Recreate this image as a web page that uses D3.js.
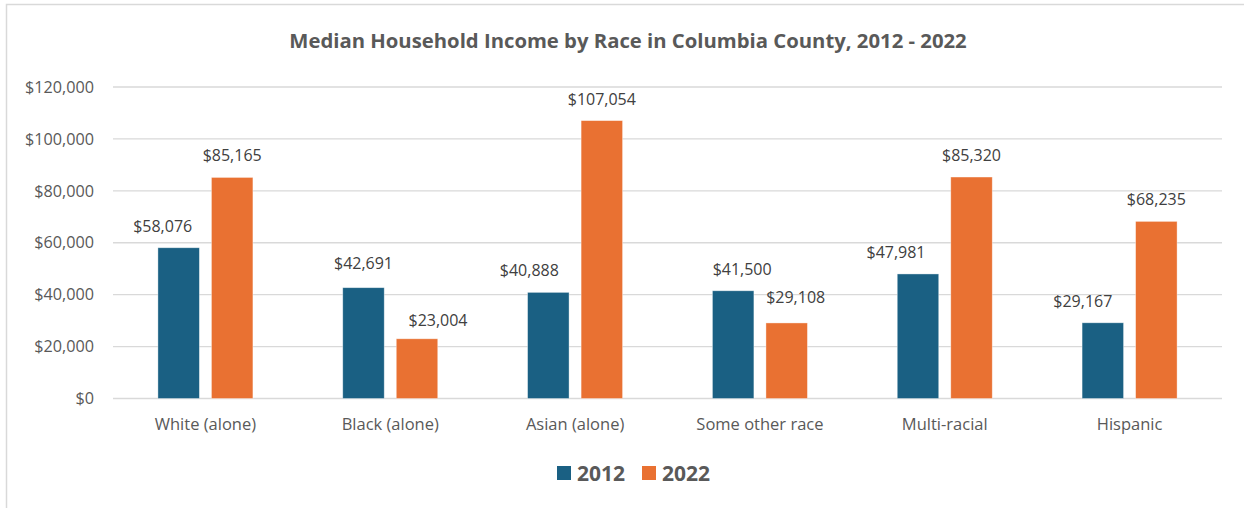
<!DOCTYPE html>
<html>
<head>
<meta charset="utf-8">
<script src="https://cdn.jsdelivr.net/npm/d3@7"></script>
<style>
  html, body { margin: 0; padding: 0; background: #fff; }
  svg { display: block; }
  text { font-family: "Open Sans", sans-serif; }
</style>
</head>
<body>
<svg id="chart" width="1244" height="508"></svg>
<script>
// Median household income by race, Columbia County
const categories = ["White (alone)", "Black (alone)", "Asian (alone)", "Some other race", "Multi-racial", "Hispanic"];
const seriesNames = ["2012", "2022"];
const values2012 = [58076, 42691, 40888, 41500, 47981, 29167];
const values2022 = [85165, 23004, 107054, 29108, 85320, 68235];
const yTicks = [0, 20000, 40000, 60000, 80000, 100000, 120000];
const colors = ["#1A6083", "#E97132"];

// hand-placed value label nudges (px), per series then category
const labelNudgeX = [[-16, 0, -19, 9, -22, -20], [0, 21, 0, 9, 0, 0]];
const labelNudgeY = [[0, -3, 0, 0, 0, 0], [0, 3, 0, -4, 0, 0]];

const svg = d3.select("#chart");
const W = 1244, H = 508;
const margin = { left: 113, right: 22, top: 87, bottom: 109 };
const textColor = "#595959";

// chart frame
svg.append("rect")
  .attr("x", 6.5).attr("y", 4.5)
  .attr("width", W + 20).attr("height", H + 20)
  .attr("fill", "#fff").attr("stroke", "#D9D9D9").attr("stroke-width", 1.5);

const x0 = d3.scaleBand().domain(categories)
  .range([margin.left, W - margin.right]).paddingInner(0).paddingOuter(0);
const x1 = d3.scaleBand().domain(seriesNames)
  .range([0, 95]).paddingInner(0.225);
const y = d3.scaleLinear().domain([0, 120000]).range([H - margin.bottom - 0.5, margin.top]);

// gridlines
svg.append("g").selectAll("line").data(yTicks).join("line")
  .attr("x1", margin.left).attr("x2", W - margin.right)
  .attr("y1", d => y(d)).attr("y2", d => y(d))
  .attr("stroke", "#D9D9D9").attr("stroke-width", 1.3);

// y axis labels
const fmt = d => "$" + d3.format(",")(d);
const yAxis = d3.axisLeft(y).tickValues(yTicks).tickFormat(fmt).tickSize(0).tickPadding(19);
const ya = svg.append("g").attr("transform", `translate(${margin.left},0)`).call(yAxis);
ya.select(".domain").remove();
ya.selectAll("text").attr("fill", textColor).style("font-size", "16.2px").style("font-family", "'Open Sans', sans-serif");

// x axis labels
const xAxis = d3.axisBottom(x0).tickSize(0).tickPadding(20);
const xa = svg.append("g").attr("transform", `translate(0,${y(0)})`).call(xAxis);
xa.select(".domain").remove();
xa.selectAll("text").attr("fill", textColor).style("font-size", "16.5px").style("font-family", "'Open Sans', sans-serif");

// bars + labels
const rows = categories.map((c, i) => ({ cat: c, i, vals: [values2012[i], values2022[i]] }));
const groups = svg.append("g").selectAll("g").data(rows).join("g")
  .attr("transform", d => `translate(${x0(d.cat) + (x0.bandwidth() - 95) / 2},0)`);

const cells = d => d.vals.map((v, j) => ({ key: seriesNames[j], v, j, i: d.i }));

groups.selectAll("rect").data(cells).join("rect")
  .attr("x", d => x1(d.key)).attr("width", x1.bandwidth())
  .attr("y", d => y(d.v)).attr("height", d => y(0) - y(d.v))
  .attr("fill", d => colors[d.j])
  .attr("stroke", "#fff").attr("stroke-opacity", 0.5).attr("stroke-width", 0.75);

groups.selectAll("text.val").data(cells).join("text")
  .attr("class", "val")
  .attr("x", d => x1(d.key) + x1.bandwidth() / 2 + labelNudgeX[d.j][d.i])
  .attr("y", d => y(d.v) - 16 + labelNudgeY[d.j][d.i])
  .attr("text-anchor", "middle")
  .attr("fill", "#404040")
  .style("font-size", "16px")
  .text(d => fmt(d.v));

// title
svg.append("text")
  .attr("x", 628).attr("y", 48)
  .attr("text-anchor", "middle")
  .attr("fill", textColor)
  .style("font-size", "20.3px").style("font-weight", "bold")
  .text("Median Household Income by Race in Columbia County, 2012 - 2022");

// legend
const legendX = [557, 642];
const lg = svg.append("g").selectAll("g").data(seriesNames).join("g")
  .attr("transform", (d, i) => `translate(${legendX[i]},466)`);
lg.append("rect").attr("width", 14).attr("height", 14).attr("fill", (d, i) => colors[i]);
lg.append("text").attr("x", 20).attr("y", 14.5)
  .attr("fill", textColor)
  .style("font-size", "21px").style("font-weight", "bold")
  .text(d => d);
</script>
</body>
</html>
